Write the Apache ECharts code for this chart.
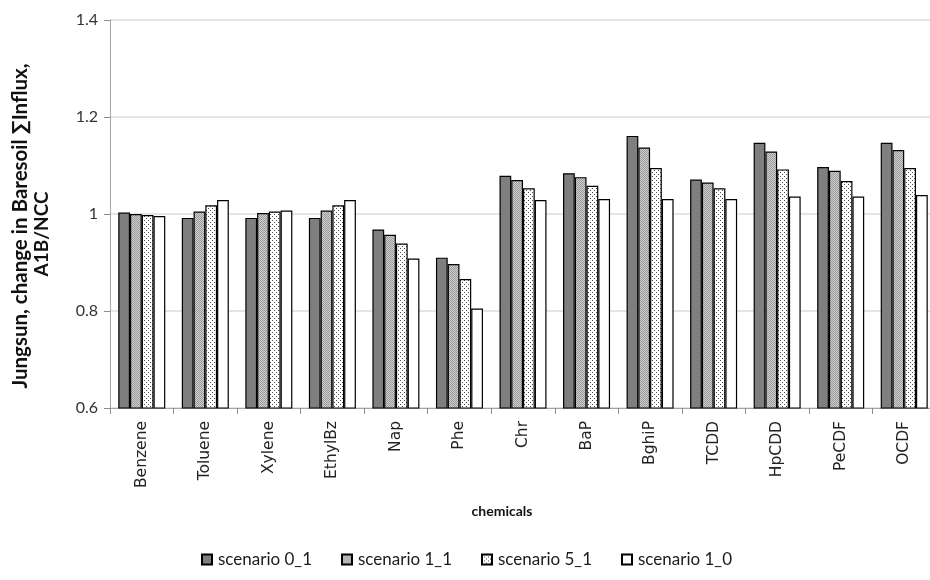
<!DOCTYPE html>
<html>
<head>
<meta charset="utf-8">
<script src="https://cdn.jsdelivr.net/npm/echarts@6/dist/echarts.min.js"></script>
<style>
  html, body { margin: 0; padding: 0; background: #fff; }
  #chart { width: 930px; height: 580px; }
</style>
</head>
<body>
<div id="chart"></div>
<script>
// Chemicals on the category axis
const chemicals = ['Benzene', 'Toluene', 'Xylene', 'EthylBz', 'Nap', 'Phe', 'Chr', 'BaP', 'BghiP', 'TCDD', 'HpCDD', 'PeCDF', 'OCDF'];

// Ratio of summed influx (A1B / NCC) per scenario
const scenario0_1 = [1.003, 0.992, 0.992, 0.992, 0.968, 0.910, 1.079, 1.084, 1.161, 1.071, 1.147, 1.097, 1.147];
const scenario1_1 = [1.000, 1.005, 1.002, 1.007, 0.957, 0.897, 1.070, 1.076, 1.137, 1.065, 1.129, 1.089, 1.132];
const scenario5_1 = [0.998, 1.018, 1.005, 1.018, 0.939, 0.866, 1.053, 1.058, 1.095, 1.053, 1.092, 1.068, 1.095];
const scenario1_0 = [0.996, 1.029, 1.007, 1.029, 0.908, 0.805, 1.029, 1.031, 1.031, 1.031, 1.036, 1.036, 1.039];

const seriesNames = ['scenario 0_1', 'scenario 1_1', 'scenario 5_1', 'scenario 1_0'];

// Value axis ticks
const yMin = 0.6, yMax = 1.4, yStep = 0.2;

// Small repeating fills for the textured bars
function makePattern(size, bg, fg, dots) {
  const c = document.createElement('canvas');
  c.width = size; c.height = size;
  const g = c.getContext('2d');
  g.fillStyle = bg; g.fillRect(0, 0, size, size);
  g.fillStyle = fg;
  dots.forEach(([x, y]) => g.fillRect(x, y, 1, 1));
  return { image: c, repeat: 'repeat' };
}
const fineGrey = makePattern(2, '#cfcfcf', '#9a9a9a', [[0, 0], [1, 1]]);
const dotted = makePattern(4, '#ffffff', '#4a4a4a', [[0, 0], [2, 2]]);

const fills = ['#7f7f7f', fineGrey, dotted, '#ffffff'];
const values = [scenario0_1, scenario1_1, scenario5_1, scenario1_0];

// One legend entry per slot along the bottom row
const legendLeft = [196, 336, 476, 616];
const legends = seriesNames.map((name, i) => ({
  data: [name],
  left: legendLeft[i], top: 546,
  itemWidth: 10, itemHeight: 10, itemGap: 0,
  icon: 'rect',
  selectedMode: false,
  textStyle: { fontFamily: 'Lato', fontSize: 17, color: '#1a1a1a', padding: [0, 0, 0, 1] }
}));

const chart = echarts.init(document.getElementById('chart'), null, { renderer: 'canvas' });

chart.setOption({
  animation: false,
  backgroundColor: '#ffffff',
  grid: {
    left: 110, top: 20, width: 826, bottom: 172,
    outerBoundsMode: 'none'
  },
  xAxis: {
    type: 'category',
    data: chemicals,
    axisLine: { lineStyle: { color: '#a6a6a6', width: 1 } },
    axisTick: { show: true, length: 6, alignWithLabel: false, lineStyle: { color: '#8c8c8c' } },
    axisLabel: {
      rotate: 90, margin: 13,
      fontFamily: 'DejaVu Sans', fontSize: 15.5, color: '#222'
    }
  },
  yAxis: {
    type: 'value',
    min: yMin, max: yMax, interval: yStep,
    axisLine: { show: true, lineStyle: { color: '#a6a6a6', width: 1 } },
    axisTick: { show: true, length: 6, lineStyle: { color: '#8c8c8c' } },
    axisLabel: {
      margin: 12, fontFamily: 'Lato', fontSize: 16, color: '#333',
      formatter: v => String(Math.round(v * 10) / 10)
    },
    splitLine: { lineStyle: { color: '#dcdcdc', width: 1.5 } }
  },
  legend: legends,
  graphic: [
    {
      type: 'text', x: 502, y: 511,
      style: {
        text: 'chemicals', fontFamily: 'Lato', fontWeight: 'bold', fontSize: 14,
        fill: '#111', align: 'center', verticalAlign: 'middle'
      }
    },
    {
      type: 'text', x: 20, y: 226, rotation: Math.PI / 2,
      style: {
        text: 'Jungsun, change in Baresoil \u2211Influx,', fontFamily: 'Lato', fontWeight: 'bold', fontSize: 20.5,
        fill: '#111', align: 'center', verticalAlign: 'middle'
      }
    },
    {
      type: 'text', x: 42, y: 234, rotation: Math.PI / 2,
      style: {
        text: 'A1B/NCC', fontFamily: 'Lato', fontWeight: 'bold', fontSize: 19,
        fill: '#111', align: 'center', verticalAlign: 'middle'
      }
    }
  ],
  series: seriesNames.map((name, i) => ({
    name,
    type: 'bar',
    data: values[i],
    barGap: '0%',
    barCategoryGap: '26%',
    itemStyle: { color: fills[i], borderColor: '#000', borderWidth: 1.2 },
    emphasis: { disabled: true }
  }))
});
</script>
</body>
</html>
